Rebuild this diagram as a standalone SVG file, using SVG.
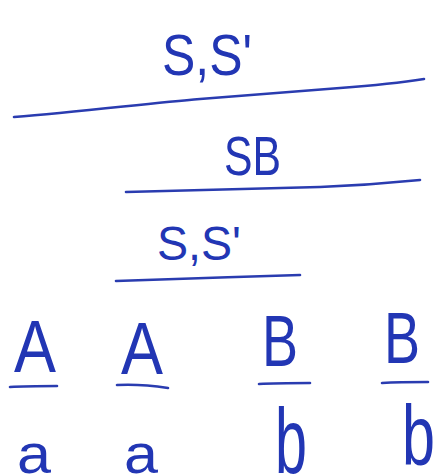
<svg xmlns="http://www.w3.org/2000/svg" width="437" height="475" viewBox="0 0 437 475">
<style>
.t{font-family:"Liberation Sans","DejaVu Sans",sans-serif;fill:#2236b4}
.l{fill:none;stroke:#2a3cb0;stroke-width:2.6;stroke-linecap:round}
</style>
<rect width="437" height="475" fill="#ffffff"/>
<g id="connectors">
<path class="l" d="M14,117 C80,112 150,103 200,99 C260,94 300,91 340,88 C380,85 405,82 424,79"/>
<path class="l" d="M126,192 C200,190 260,189 320,187 C370,185 400,182 420,180"/>
<path class="l" d="M116,281 C170,279 240,277 300,275"/>
<path class="l" d="M10,387 C25,386 45,386 57,386"/>
<path class="l" d="M117,385 C135,384 155,386 168,388"/>
<path class="l" d="M259,384 C275,383 295,383 310,383"/>
<path class="l" d="M382,383 C398,382 415,382 428,382"/>
</g>
<g id="n-top"><text class="t" x="162" y="75" font-size="58" textLength="90" lengthAdjust="spacingAndGlyphs">S,S'</text></g>
<g id="n-sb"><text class="t" x="224" y="175" font-size="56" textLength="57" lengthAdjust="spacingAndGlyphs">SB</text></g>
<g id="n-mid"><text class="t" x="157" y="260" font-size="48" textLength="84" lengthAdjust="spacingAndGlyphs">S,S'</text></g>
<g id="n-A1"><text class="t" x="14" y="372" font-size="74" textLength="42" lengthAdjust="spacingAndGlyphs">A</text></g>
<g id="n-A2"><text class="t" x="121" y="374" font-size="74" textLength="42" lengthAdjust="spacingAndGlyphs">A</text></g>
<g id="n-B1"><text class="t" x="262" y="366" font-size="72" textLength="36" lengthAdjust="spacingAndGlyphs">B</text></g>
<g id="n-B2"><text class="t" x="384" y="363" font-size="72" textLength="36" lengthAdjust="spacingAndGlyphs">B</text></g>
<g id="n-a1"><text class="t" x="17" y="473" font-size="56" textLength="34" lengthAdjust="spacingAndGlyphs">a</text></g>
<g id="n-a2"><text class="t" x="124" y="473" font-size="56" textLength="34" lengthAdjust="spacingAndGlyphs">a</text></g>
<g id="n-b1"><text class="t" x="275" y="473" font-size="92" textLength="32" lengthAdjust="spacingAndGlyphs">b</text></g>
<g id="n-b2"><text class="t" x="402" y="465" font-size="86" textLength="33" lengthAdjust="spacingAndGlyphs">b</text></g>
</svg>
